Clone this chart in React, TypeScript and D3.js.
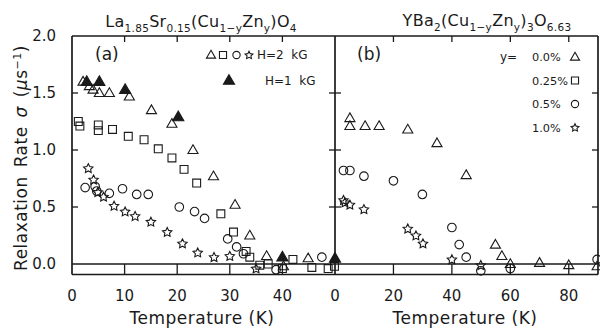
import React from 'react';
import * as d3 from 'd3';

// ---- Panel (a): La1.85Sr0.15(Cu1-yZny)O4 ----
const aTriOpenX = [2.1, 3.3, 4.0, 5.2, 7.1, 10.9, 15.1, 19.0, 23.0, 26.9, 31.0, 33.8, 37.0, 40.2, 44.9];
const aTriOpenY = [1.60, 1.56, 1.53, 1.50, 1.50, 1.47, 1.35, 1.23, 1.00, 0.77, 0.52, 0.25, 0.07, -0.02, 0.05];
const aTriFillX = [2.8, 5.2, 10.1, 20.2, 40.0, 50.0];
const aTriFillY = [1.60, 1.60, 1.53, 1.29, 0.06, 0.05];
const aSqX = [1.2, 1.5, 5.0, 5.0, 7.7, 10.7, 13.7, 16.4, 19.0, 21.3, 23.7, 28.3, 30.7, 33.1, 33.8, 35.7, 37.3, 40.0, 42.0, 45.6, 48.7, 49.9];
const aSqY = [1.25, 1.21, 1.22, 1.17, 1.18, 1.12, 1.09, 1.01, 0.93, 0.83, 0.71, 0.44, 0.28, 0.11, 0.06, -0.01, 0.0, -0.04, 0.04, -0.03, -0.04, -0.02];
const aCircX = [2.5, 4.4, 4.7, 7.1, 9.6, 12.3, 14.5, 20.4, 23.3, 25.2, 29.6, 31.3, 32.6, 38.8, 47.5];
const aCircY = [0.67, 0.68, 0.64, 0.62, 0.66, 0.61, 0.61, 0.50, 0.46, 0.40, 0.22, 0.15, 0.09, -0.05, 0.06];
const aStarX = [3.1, 4.1, 4.9, 6.0, 8.0, 10.1, 12.0, 15.0, 18.1, 21.0, 23.9, 27.0, 30.0, 35.0];
const aStarY = [0.84, 0.74, 0.63, 0.59, 0.51, 0.46, 0.42, 0.37, 0.28, 0.18, 0.10, 0.06, 0.07, -0.04];

// ---- Panel (b): YBa2(Cu1-yZny)3O6.63 ----
const bTriX = [5.1, 5.1, 10.3, 15.1, 24.9, 34.9, 44.9, 54.9, 57.1, 60.0, 70.0, 80.0, 89.7];
const bTriY = [1.28, 1.21, 1.21, 1.21, 1.18, 1.06, 0.78, 0.17, 0.07, 0.0, 0.01, -0.01, -0.02];
const bCircX = [2.9, 5.1, 9.9, 20.0, 29.9, 40.0, 42.5, 44.9, 49.9, 60.0, 89.7];
const bCircY = [0.82, 0.82, 0.77, 0.73, 0.61, 0.32, 0.17, 0.06, -0.06, -0.04, 0.04];
const bStarX = [2.9, 3.4, 5.1, 9.9, 24.9, 27.7, 30.1, 40.0, 49.9];
const bStarY = [0.56, 0.54, 0.52, 0.48, 0.31, 0.25, 0.18, 0.04, -0.01];

// ---- Ticks ----
const yTicks = [0.0, 0.5, 1.0, 1.5, 2.0];
const aXTicks = [0, 10, 20, 30, 40];
const bXTicks = [0, 20, 40, 60, 80];
const bLegend = ['0.0%', '0.25%', '0.5%', '1.0%'];
const bLegendKinds = ['tri', 'sq', 'circ', 'star'];

const W = 600;
const H = 328;
const xA = d3.scaleLinear().domain([0, 50]).range([72, 335]);
const xB = d3.scaleLinear().domain([0, 90]).range([335, 598]);
const yS = d3.scaleLinear().domain([-0.1, 2.0]).range([275.4, 36]);

const INK = '#1a1a1a';
const FONT = '"DejaVu Sans", "Liberation Sans", Arial, sans-serif';

function starPath(r: number) {
  const p = d3.path();
  for (let i = 0; i < 10; i++) {
    const ang = -Math.PI / 2 + (i * Math.PI) / 5;
    const rad = i % 2 === 0 ? r : r * 0.5;
    const x = rad * Math.cos(ang);
    const y = rad * Math.sin(ang);
    if (i === 0) p.moveTo(x, y);
    else p.lineTo(x, y);
  }
  p.closePath();
  return p.toString();
}

const SYM: Record<string, { d: string; fill: boolean; dy: number }> = {
  tri: { d: d3.symbol(d3.symbolTriangle, 44)() as string, fill: false, dy: 0.6 },
  triF: { d: d3.symbol(d3.symbolTriangle, 54)() as string, fill: true, dy: 0.6 },
  sq: { d: d3.symbol(d3.symbolSquare, 62)() as string, fill: false, dy: 0 },
  circ: { d: d3.symbol(d3.symbolCircle, 58)() as string, fill: false, dy: 0 },
  star: { d: starPath(4.9), fill: false, dy: 0.3 },
  triL: { d: d3.symbol(d3.symbolTriangle, 36)() as string, fill: false, dy: 0.5 },
  sqL: { d: d3.symbol(d3.symbolSquare, 50)() as string, fill: false, dy: 0 },
  circL: { d: d3.symbol(d3.symbolCircle, 42)() as string, fill: false, dy: 0 },
  starL: { d: starPath(4.1), fill: false, dy: 0.3 },
};

function Marker({ kind, x, y }: { kind: string; x: number; y: number }) {
  const s = SYM[kind];
  return (
    <path d={s.d} transform={`translate(${x},${y + s.dy})`} fill={s.fill ? INK : 'none'} stroke={INK} strokeWidth={1.1} />
  );
}

function Series({ xs, ys, kind, sx }: { xs: number[]; ys: number[]; kind: string; sx: d3.ScaleLinear<number, number> }) {
  return (
    <g>
      {xs.map((v, i) => (
        <Marker key={i} kind={kind} x={sx(v)} y={yS(ys[i])} />
      ))}
    </g>
  );
}

export default function App() {
  const top = yS(2.0);
  const bottom = 274.5;
  const zero = yS(0);
  const left = xA(0);
  const mid = xA(50);
  const right = xB(90);
  const lw = 1.7;
  const tickLen = 6;
  const subStyle = { fontSize: 10.5 };
  return (
    <svg width={W} height={H} style={{ position: 'absolute', left: 0, top: 0, background: '#fff' }} fontFamily={FONT}>
      <rect x={0} y={0} width={W} height={H} fill="#fff" />
      {/* Titles */}
      <text x={201} y={27} textAnchor="middle" fontSize={16} fill={INK} letterSpacing={0.3}>
        La<tspan dy={5} style={subStyle}>1.85</tspan>
        <tspan dy={-5}>Sr</tspan><tspan dy={5} style={subStyle}>0.15</tspan>
        <tspan dy={-5}>(Cu</tspan><tspan dy={5} style={subStyle}>1−y</tspan>
        <tspan dy={-5}>Zn</tspan><tspan dy={5} style={subStyle}>y</tspan>
        <tspan dy={-5}>)O</tspan><tspan dy={5} style={subStyle}>4</tspan>
      </text>
      <text x={487} y={26} textAnchor="middle" fontSize={16} fill={INK} letterSpacing={0.3}>
        YBa<tspan dy={5} style={subStyle}>2</tspan>
        <tspan dy={-5}>(Cu</tspan><tspan dy={5} style={subStyle}>1−y</tspan>
        <tspan dy={-5}>Zn</tspan><tspan dy={5} style={subStyle}>y</tspan>
        <tspan dy={-5}>)</tspan><tspan dy={5} style={subStyle}>3</tspan>
        <tspan dy={-5}>O</tspan><tspan dy={5} style={subStyle}>6.63</tspan>
      </text>

      {/* Frame */}
      <g stroke={INK} strokeWidth={lw} fill="none">
        <line x1={left} x2={right} y1={top} y2={top} />
        <line x1={left} x2={right} y1={bottom} y2={bottom} />
        <line x1={left} x2={left} y1={top} y2={bottom} />
        <line x1={right} x2={right} y1={top} y2={bottom} />
        <line x1={mid} x2={mid} y1={top} y2={bottom} />
        <line x1={left} x2={right} y1={zero} y2={zero} />
      </g>

      {/* Ticks */}
      <g stroke={INK} strokeWidth={1.3}>
        {yTicks.filter((t) => t > 0 && t < 2).map((t) => (
          <g key={t}>
            <line x1={left} x2={left + tickLen} y1={yS(t)} y2={yS(t)} />
            <line x1={mid - tickLen} x2={mid + tickLen} y1={yS(t)} y2={yS(t)} />
            <line x1={right - tickLen} x2={right} y1={yS(t)} y2={yS(t)} />
          </g>
        ))}
        {aXTicks.filter((t) => t > 0).map((t) => (
          <g key={'a' + t}>
            <line x1={xA(t)} x2={xA(t)} y1={top} y2={top + tickLen} />
            <line x1={xA(t)} x2={xA(t)} y1={bottom} y2={zero} />
          </g>
        ))}
        {bXTicks.filter((t) => t > 0).map((t) => (
          <g key={'b' + t}>
            <line x1={xB(t)} x2={xB(t)} y1={top} y2={top + tickLen} />
            <line x1={xB(t)} x2={xB(t)} y1={bottom} y2={zero} />
          </g>
        ))}
      </g>

      {/* Tick labels */}
      <g fontSize={15} fill={INK}>
        {yTicks.map((t) => (
          <text key={t} x={56} y={yS(t)} dy="0.36em" textAnchor="end">{t.toFixed(1)}</text>
        ))}
        {aXTicks.map((t) => (
          <text key={'a' + t} x={xA(t)} y={300.5} textAnchor="middle">{t}</text>
        ))}
        {bXTicks.map((t) => (
          <text key={'b' + t} x={xB(t)} y={300.5} textAnchor="middle">{t}</text>
        ))}
      </g>

      {/* Axis titles */}
      <text x={202} y={324} textAnchor="middle" fontSize={17} fill={INK} letterSpacing={0.5}>Temperature (K)</text>
      <text x={465} y={324} textAnchor="middle" fontSize={17} fill={INK} letterSpacing={0.5}>Temperature (K)</text>
      <text transform="translate(27,158) rotate(-90)" textAnchor="middle" fontSize={17} fill={INK} letterSpacing={0.5} wordSpacing={3}>
        Relaxation Rate <tspan fontStyle="italic">σ</tspan> (<tspan fontStyle="italic">μ</tspan>s<tspan dy={-6} fontSize={11}>−1</tspan><tspan dy={6}>)</tspan>
      </text>

      {/* Panel labels */}
      <text x={95} y={60} fontSize={17} fill={INK}>(a)</text>
      <text x={357} y={60} fontSize={17} fill={INK}>(b)</text>

      {/* Legend a */}
      <Marker kind="triL" x={211} y={55} />
      <Marker kind="sqL" x={223} y={55} />
      <Marker kind="circL" x={236.5} y={55} />
      <Marker kind="starL" x={249} y={55} />
      <text x={257} y={59.3} fontSize={12} fill={INK} style={{ whiteSpace: 'pre' }}>{'H=2  kG'}</text>
      <Marker kind="triF" x={229} y={80.5} />
      <text x={265} y={85} fontSize={12} fill={INK} style={{ whiteSpace: 'pre' }}>{'H=1  kG'}</text>

      {/* Legend b */}
      <text x={500} y={61.2} fontSize={12} fill={INK}>y=</text>
      {bLegend.map((lab, i) => (
        <g key={lab}>
          <text x={532} y={57 + i * 23.5 + 4.2} fontSize={11.3} fill={INK}>{lab}</text>
          <Marker kind={bLegendKinds[i] + 'L'} x={575} y={57 + i * 23.5} />
        </g>
      ))}

      {/* Data panel a */}
      <Series xs={aSqX} ys={aSqY} kind="sq" sx={xA} />
      <Series xs={aCircX} ys={aCircY} kind="circ" sx={xA} />
      <Series xs={aStarX} ys={aStarY} kind="star" sx={xA} />
      <Series xs={aTriOpenX} ys={aTriOpenY} kind="tri" sx={xA} />
      <Series xs={aTriFillX} ys={aTriFillY} kind="triF" sx={xA} />

      {/* Data panel b */}
      <Series xs={bCircX} ys={bCircY} kind="circ" sx={xB} />
      <Series xs={bStarX} ys={bStarY} kind="star" sx={xB} />
      <Series xs={bTriX} ys={bTriY} kind="tri" sx={xB} />
    </svg>
  );
}
